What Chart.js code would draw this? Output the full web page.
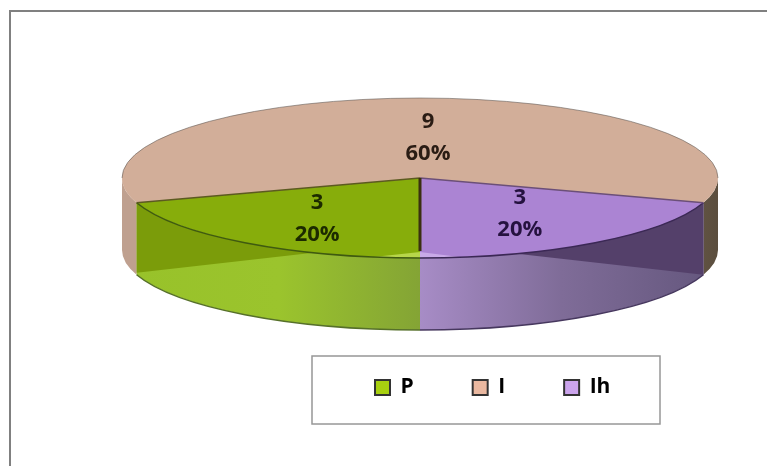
<!DOCTYPE html>
<html>
<head>
<meta charset="utf-8">
<title>Pie</title>
<script src="https://cdn.jsdelivr.net/npm/chart.js@4/dist/chart.umd.min.js"></script>
<style>
    html, body { margin: 0; padding: 0; background: #fff; }
    canvas { display: block; }
</style>
</head>
<body>
<canvas id="pieChart" width="767" height="466"></canvas>
<script>
const categories = ['P', 'I', 'Ih'];
const counts = [3, 9, 3];

const topColors = ['#87ad0b', '#d2ae99', '#ab84d3'];
const legendColors = ['#a8d010', '#eab8a0', '#cba4ec'];
const labelColors = ['#1c2a00', '#2a1c14', '#25123f'];

// wall shading per slice, left to right
const wallColors = [
    ['#98c22a', '#9bc42d', '#84a435'],
    ['#bfa08f', '#bfa08f', '#5b4e3e'],
    ['#a78cc6', '#7f6c98', '#66587f']
];

// ellipse of the top face and how far the walls drop
const pie = { x: 420, y: 178, rx: 298, ry: 80, depth: 72 };
const labelReach = 0.57;
const labelNudge = [[-3, 4], [8, 5], [0, -1.5]];
const legendBox = { left: 312, top: 356, right: 660, bottom: 424 };
const deg = Math.PI / 180;

function px(angle) { return pie.x + pie.rx * Math.cos(angle); }
function py(angle) { return pie.y + pie.ry * Math.sin(angle); }

function drawWall(ctx, pieces, colors) {
    const xs = pieces.flat().map(px);
    const grad = ctx.createLinearGradient(Math.min(...xs), 0, Math.max(...xs), 0);
    grad.addColorStop(0, colors[0]);
    grad.addColorStop(0.5, colors[1]);
    grad.addColorStop(1, colors[2]);
    ctx.fillStyle = grad;
    pieces.forEach(([from, to]) => {
        ctx.beginPath();
        ctx.ellipse(pie.x, pie.y, pie.rx, pie.ry, 0, from, to);
        ctx.ellipse(pie.x, pie.y + pie.depth, pie.rx, pie.ry, 0, to, from, true);
        ctx.closePath();
        ctx.fill();
    });
}

// darker sliver where the cut face shows under the front edge
function drawSliver(ctx, edgeAngle, tipAngle, drop, color) {
    ctx.beginPath();
    ctx.ellipse(pie.x, pie.y, pie.rx, pie.ry, 0, edgeAngle, tipAngle, edgeAngle > tipAngle);
    ctx.lineTo(px(edgeAngle), py(edgeAngle) + drop);
    ctx.closePath();
    ctx.fillStyle = color;
    ctx.fill();
}

// pale highlight tapering away from the front of the top face
function drawSeam(ctx, endAngle, color) {
    ctx.beginPath();
    ctx.moveTo(pie.x, py(90 * deg) - 6);
    ctx.lineTo(px(endAngle), py(endAngle));
    ctx.ellipse(pie.x, pie.y, pie.rx, pie.ry, 0, endAngle, 90 * deg, endAngle > 90 * deg);
    ctx.closePath();
    ctx.fillStyle = color;
    ctx.fill();
}

function strokeRim(ctx, from, to, offset, color, width) {
    ctx.beginPath();
    ctx.ellipse(pie.x, pie.y + offset, pie.rx, pie.ry, 0, from, to);
    ctx.strokeStyle = color;
    ctx.lineWidth = width;
    ctx.stroke();
}

function strokeSpoke(ctx, angle, color, width) {
    ctx.beginPath();
    ctx.moveTo(pie.x, pie.y);
    ctx.lineTo(px(angle), py(angle));
    ctx.strokeStyle = color;
    ctx.lineWidth = width;
    ctx.stroke();
}

const pie3d = {
    id: 'pie3d',
    beforeDraw(chart) {
        const ctx = chart.ctx;
        ctx.save();
        ctx.fillStyle = '#fff';
        ctx.fillRect(0, 0, chart.width, chart.height);
        // outer frame, top and left only
        ctx.strokeStyle = '#808080';
        ctx.lineWidth = 2;
        ctx.beginPath();
        ctx.moveTo(10, chart.height);
        ctx.lineTo(10, 11);
        ctx.lineTo(chart.width, 11);
        ctx.stroke();
        // legend frame
        ctx.strokeStyle = '#979797';
        ctx.lineWidth = 1.5;
        ctx.strokeRect(legendBox.left, legendBox.top, legendBox.right - legendBox.left, legendBox.bottom - legendBox.top);
        ctx.restore();
    },
    afterLayout(chart) {
        // legend sits in its own frame, off to the right of the page centre
        const legend = chart.legend;
        const width = legend.width;
        const height = legend.height;
        legend.left = 375 - legend.options.labels.padding;
        legend.right = legend.left + width;
        legend.top = 389 - legend.options.labels.padding - 12;
        legend.bottom = legend.top + height;
    },
    beforeDatasetsDraw(chart) {
        const ctx = chart.ctx;
        const arcs = chart.getDatasetMeta(0).data;
        ctx.save();
        arcs.forEach((arc, i) => {
            // only the part of a slice facing the viewer has a wall
            const pieces = [[0, Math.PI], [2 * Math.PI, 3 * Math.PI]]
                .map(([lo, hi]) => [Math.max(arc.startAngle, lo), Math.min(arc.endAngle, hi)])
                .filter(([from, to]) => to > from);
            drawWall(ctx, pieces, wallColors[i]);
        });
        ctx.restore();

        const arc = arcs[0];
        ctx.save();
        ctx.translate(pie.x, pie.y);
        ctx.scale(pie.rx / arc.outerRadius, pie.ry / arc.outerRadius);
        ctx.translate(-arc.x, -arc.y);
    },
    afterDatasetsDraw(chart) {
        const ctx = chart.ctx;
        const arcs = chart.getDatasetMeta(0).data;
        ctx.restore();

        const [pArc, iArc, ihArc] = arcs;
        ctx.save();
        drawSliver(ctx, pArc.endAngle, 111 * deg, 70, '#7b9c0a');
        drawSliver(ctx, ihArc.startAngle - 2 * Math.PI, 71 * deg, 72, '#54406a');

        drawSeam(ctx, 99 * deg, '#b7d64a');
        drawSeam(ctx, 82 * deg, '#c9aae8');

        strokeRim(ctx, pArc.startAngle, pArc.endAngle, 0, '#3f5a10', 1.5);
        strokeRim(ctx, ihArc.startAngle, ihArc.endAngle, 0, '#3b2855', 1.5);
        strokeRim(ctx, pArc.startAngle, pArc.endAngle, pie.depth, '#56702a', 1.5);
        strokeRim(ctx, ihArc.startAngle, ihArc.endAngle, pie.depth, '#46375e', 1.5);
        strokeRim(ctx, Math.PI, 2 * Math.PI, 0, 'rgba(90,84,80,0.55)', 1);

        strokeSpoke(ctx, pArc.endAngle, '#5c5a20', 1.5);
        strokeSpoke(ctx, ihArc.startAngle, '#6b4f78', 1.5);

        ctx.strokeStyle = '#3a3010';
        ctx.lineWidth = 3;
        ctx.beginPath();
        ctx.moveTo(pie.x, pie.y);
        ctx.lineTo(pie.x, py(90 * deg) - 7);
        ctx.stroke();

        // count and share on each slice
        const total = counts.reduce((a, b) => a + b, 0);
        ctx.font = 'bold 22px "Open Sans"';
        ctx.textAlign = 'center';
        ctx.textBaseline = 'middle';
        arcs.forEach((arc, i) => {
            const mid = (arc.startAngle + arc.endAngle) / 2;
            const x = pie.x + pie.rx * labelReach * Math.cos(mid) + labelNudge[i][0];
            const y = pie.y + pie.ry * labelReach * Math.sin(mid) + labelNudge[i][1];
            ctx.fillStyle = labelColors[i];
            ctx.fillText(counts[i], x, y - 16);
            ctx.fillText(Math.round(counts[i] / total * 100) + '%', x, y + 16);
        });
        ctx.restore();
    }
};

new Chart(document.getElementById('pieChart').getContext('2d'), {
    type: 'pie',
    data: {
        labels: categories,
        datasets: [{
            data: counts,
            backgroundColor: topColors,
            borderWidth: 0
        }]
    },
    options: {
        responsive: false,
        animation: false,
        rotation: 180,
        plugins: {
            tooltip: { enabled: false },
            legend: {
                position: 'bottom',
                align: 'start',
                labels: {
                    boxWidth: 15,
                    boxHeight: 15,
                    padding: 59,
                    color: '#111',
                    font: { family: 'Open Sans', size: 21, weight: 'bold' },
                    generateLabels: chart => categories.map((name, i) => ({
                        text: name,
                        fillStyle: legendColors[i],
                        strokeStyle: '#333',
                        lineWidth: 2,
                        index: i
                    }))
                }
            }
        }
    },
    plugins: [pie3d]
});
</script>
</body>
</html>
